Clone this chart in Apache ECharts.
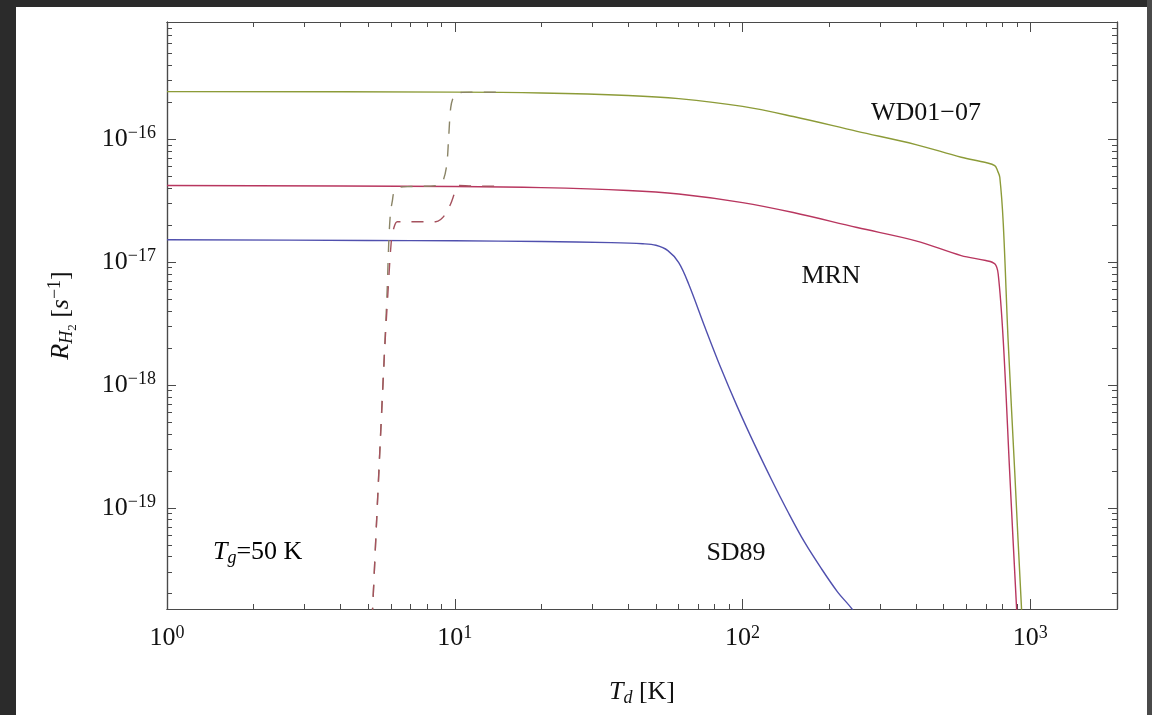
<!DOCTYPE html>
<html>
<head>
<meta charset="utf-8">
<script src="https://cdn.jsdelivr.net/npm/echarts@6/dist/echarts.min.js"></script>
<style>
  html, body { margin: 0; padding: 0; width: 1152px; height: 715px; background: #2b2b2b; overflow: hidden; }
  #paper { position: absolute; left: 16px; top: 7px; width: 1131px; height: 708px; background: #fff; }
  #edge { position: absolute; left: 1147px; top: 0; width: 5px; height: 715px; background: #4a4a4a; }
  #chart { position: absolute; left: 0; top: 0; width: 1152px; height: 715px; }
</style>
</head>
<body>
<div id="paper"></div>
<div id="edge"></div>
<div id="chart"></div>
<script>
// T_d [K] and R_H2 [s^-1]
const wdT = [1, 10, 20, 40, 60, 100, 150, 250, 400, 575, 700, 752, 770, 783, 805, 837, 883, 931, 960];
const wdR = [2.44e-16, 2.42e-16, 2.38e-16, 2.27e-16, 2.14e-16, 1.85e-16, 1.53e-16, 1.16e-16, 9.05e-17, 7.14e-17,
  6.46e-17, 6.1e-17, 5.5e-17, 4.9e-17, 2.06e-17, 2.3e-18, 1.9e-19, 1.56e-20, 5e-21];

const mrnT = [1, 10, 20, 40, 60, 100, 150, 250, 400, 575, 700, 752, 773, 805, 848, 895, 920];
const mrnR = [4.2e-17, 4.12e-17, 4.04e-17, 3.83e-17, 3.58e-17, 3.05e-17, 2.53e-17, 1.91e-17, 1.49e-17, 1.13e-17,
  1.03e-17, 9.68e-18, 8.0e-18, 2.3e-18, 1.89e-19, 1.56e-20, 5e-21];

const sdT = [1, 5, 10, 20, 35, 45, 50, 55, 60, 65, 74, 84, 96, 110, 126, 144, 164, 188, 214, 240, 260];
const sdR = [1.52e-17, 1.5e-17, 1.49e-17, 1.47e-17, 1.44e-17, 1.41e-17, 1.37e-17, 1.24e-17, 9.9e-18, 6.6e-18,
  2.95e-18, 1.38e-18, 6.6e-19, 3.28e-19, 1.7e-19, 9.2e-20, 5.27e-20, 3.19e-20, 2.06e-20, 1.5e-20, 1.1e-20];

// dashed curves (low temperature onset)
const dashAT = [5.10, 5.18, 5.35, 5.52, 5.70, 5.82, 5.90, 5.98, 6.07, 6.15, 6.40, 7.03, 8.65, 9.05, 9.37, 9.52,
  9.68, 9.91, 10.3, 11.4, 14];
const dashAR = [8e-21, 1.5e-20, 7.9e-20, 3.9e-19, 1.9e-18, 5.9e-18, 1.5e-17, 2.55e-17, 3.17e-17, 3.71e-17, 4.06e-17,
  4.12e-17, 4.2e-17, 4.46e-17, 6.1e-17, 1.03e-16, 1.81e-16, 2.22e-16, 2.39e-16, 2.42e-16, 2.41e-16];

const dashBT = [5.10, 5.18, 5.35, 5.52, 5.70, 5.86, 6.02, 6.13, 6.31, 7.03, 8.58, 8.93, 9.30, 9.68, 10.07, 10.34, 11.4, 14];
const dashBR = [8e-21, 1.5e-20, 7.8e-20, 3.8e-19, 1.85e-18, 5.7e-18, 1.5e-17, 1.87e-17, 2.13e-17, 2.13e-17, 2.13e-17,
  2.22e-17, 2.48e-17, 2.98e-17, 3.83e-17, 4.2e-17, 4.16e-17, 4.15e-17];

// decade labels (exponents)
const xDecades = [0, 1, 2, 3];
const yDecades = [-19, -18, -17, -16];

const xRange = [1, 2000];
const yRange = [1.5e-20, 9e-16];

const serif = "'Liberation Serif', 'DejaVu Serif', serif";
const axisColor = "#4a4a4a";

let myChart = echarts.init(document.getElementById("chart"));

// axes are drawn in log10 space
const lg = (v) => Math.log10(v);
const pts = (ts, rs) => ts.map((t, i) => [lg(t), lg(rs[i])]);

function minorTicks(lo, hi) {
  let out = [];
  for (let e = Math.floor(lo); e <= Math.ceil(hi); e++) {
    for (let k = 2; k <= 9; k++) {
      let v = e + lg(k);
      if (v > lo + 1e-6 && v < hi - 1e-6) out.push(v);
    }
  }
  return out;
}

const powRich = {
  b: { fontFamily: serif, fontSize: 26, color: "#111" },
  s: { fontFamily: serif, fontSize: 18, color: "#111", padding: [0, 0, 11, 0] },
};
const powFormatter = (v) => "{b|10}{s|" + String(Math.round(v)).replace("-", "\u2212") + "}";

function makeAxis(pos, range, ticks, len, withLabels) {
  let ax = {
    type: "value",
    position: pos,
    min: lg(range[0]),
    max: lg(range[1]),
    axisLine: { show: true, onZero: false, lineStyle: { color: axisColor, width: 1.2 } },
    axisTick: { show: true, inside: true, length: len, customValues: ticks, lineStyle: { color: axisColor, width: 1 } },
    axisLabel: { show: false },
    splitLine: { show: false },
  };
  if (withLabels) {
    ax.axisLabel = { show: true, customValues: ticks, margin: 15, formatter: powFormatter, rich: powRich };
  }
  return ax;
}

let xMinor = minorTicks(lg(xRange[0]), lg(xRange[1]));
let yMinor = minorTicks(lg(yRange[0]), lg(yRange[1]));

let xAxes = [
  makeAxis("bottom", xRange, xDecades, 10, true),
  makeAxis("bottom", xRange, xMinor, 5, false),
  makeAxis("top", xRange, xDecades, 10, false),
  makeAxis("top", xRange, xMinor, 5, false),
];
let yAxes = [
  makeAxis("left", yRange, yDecades, 9, true),
  makeAxis("left", yRange, yMinor, 5, false),
  makeAxis("right", yRange, yDecades, 9, false),
  makeAxis("right", yRange, yMinor, 5, false),
];
yAxes[0].axisLabel.margin = 11;

// axis titles
xAxes[0].name = "{i|T}{sub|d}{n| [K]}";
xAxes[0].nameLocation = "middle";
xAxes[0].nameGap = 68;
xAxes[0].nameTextStyle = {
  rich: {
    i: { fontFamily: serif, fontSize: 26, fontStyle: "italic", color: "#111" },
    sub: { fontFamily: serif, fontSize: 18, fontStyle: "italic", color: "#111", padding: [12, 0, 0, 0] },
    n: { fontFamily: serif, fontSize: 26, color: "#111" },
  },
};
yAxes[0].name = "{i|R}{sub|H}{sub2|2}{n| [}{i|s}{sup|\u22121}{n|]}";
yAxes[0].nameLocation = "middle";
yAxes[0].nameGap = 88;
yAxes[0].nameRotate = 90;
yAxes[0].nameTextStyle = {
  rich: {
    i: { fontFamily: serif, fontSize: 26, fontStyle: "italic", color: "#111" },
    sub: { fontFamily: serif, fontSize: 18, fontStyle: "italic", color: "#111", padding: [12, 0, 0, 0] },
    sub2: { fontFamily: serif, fontSize: 13, color: "#111", padding: [22, 0, 0, 0] },
    sup: { fontFamily: serif, fontSize: 18, color: "#111", padding: [0, 0, 12, 0] },
    n: { fontFamily: serif, fontSize: 26, color: "#111" },
  },
};

function solid(name, data, color) {
  return {
    name: name, type: "line", data: data, showSymbol: false,
    smooth: 0.35,
    lineStyle: { color: color, width: 1.4 }, z: 3,
  };
}
function dashed(name, data, color) {
  return {
    name: name, type: "line", data: data, showSymbol: false,
    smooth: 0.3,
    lineStyle: { color: color, width: 1.4, type: [12, 11] }, z: 4,
  };
}

let seriesArr = [
  solid("WD01-07", pts(wdT, wdR), "#8c9b38"),
  solid("MRN", pts(mrnT, mrnR), "#b8365f"),
  solid("SD89", pts(sdT, sdR), "#5050ae"),
  dashed("dashA", pts(dashAT, dashAR), "#8a8466"),
  dashed("dashB", pts(dashBT, dashBR), "#a5525e"),
];

const txt = { fontFamily: serif, fontSize: 26, color: "#111" };

myChart.setOption({
  animation: false,
  grid: { left: 167, top: 22, width: 950, height: 587 },
  xAxis: xAxes,
  yAxis: yAxes,
  series: seriesArr,
  graphic: [
    { type: "text", style: { text: "WD01\u221207", x: 926, y: 113, align: "center", verticalAlign: "middle", font: "26px " + serif, fill: "#111" } },
    { type: "text", style: { text: "MRN", x: 831, y: 276, align: "center", verticalAlign: "middle", font: "26px " + serif, fill: "#111" } },
    { type: "text", style: { text: "SD89", x: 736, y: 553, align: "center", verticalAlign: "middle", font: "26px " + serif, fill: "#111" } },
    {
      type: "text",
      style: {
        text: "{i|T}{g|g}{n|=50 K}", x: 213, y: 552, align: "left", verticalAlign: "middle",
        rich: {
          i: Object.assign({}, txt, { fontStyle: "italic" }),
          g: { fontFamily: serif, fontSize: 18, fontStyle: "italic", color: "#111", padding: [12, 0, 0, 0] },
          n: txt,
        },
      },
    },
  ],
});
</script>
</body>
</html>
